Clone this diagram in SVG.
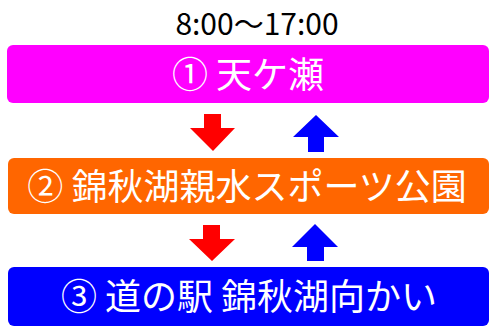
<svg xmlns="http://www.w3.org/2000/svg" width="490" height="327" viewBox="0 0 490 327">
<style>
.box{stroke:none}
.lbl{font-family:"Noto Sans CJK JP","Noto Sans",sans-serif;font-size:36px;fill:#fff;text-anchor:middle}
.time{font-family:"Noto Sans CJK JP","Noto Sans",sans-serif;font-size:30px;fill:#000;text-anchor:middle}
</style>
<rect width="490" height="327" fill="#fff"/>
<text class="time" x="257" y="35">8:00～17:00</text>
<g id="node1">
<rect class="box" x="7" y="45" width="482" height="58" rx="6" fill="#FF00FF"/>
<text class="lbl" x="248" y="88">① 天ケ瀬</text>
</g>
<g id="node2">
<rect class="box" x="8" y="158" width="481" height="56" rx="6" fill="#FF6600"/>
<text class="lbl" x="247" y="200">② 錦秋湖親水スポーツ公園</text>
</g>
<g id="node3">
<rect class="box" x="8" y="267" width="481" height="59" rx="6" fill="#0000FF"/>
<text class="lbl" x="249" y="310">③ 道の駅 錦秋湖向かい</text>
</g>
<g id="connectors">
<polygon fill="#FF0000" points="204,114 221,114 221,128 235,128 213,151 190,128 204,128"/>
<polygon fill="#0000FF" points="316,115 339,137 324,137 324,152 308,152 308,137 293,137"/>
<polygon fill="#FF0000" points="203,225 220,225 220,239 235,239 212,261 189,239 203,239"/>
<polygon fill="#0000FF" points="315,224 338,247 324,247 324,261 307,261 307,247 292,247"/>
</g>
</svg>
